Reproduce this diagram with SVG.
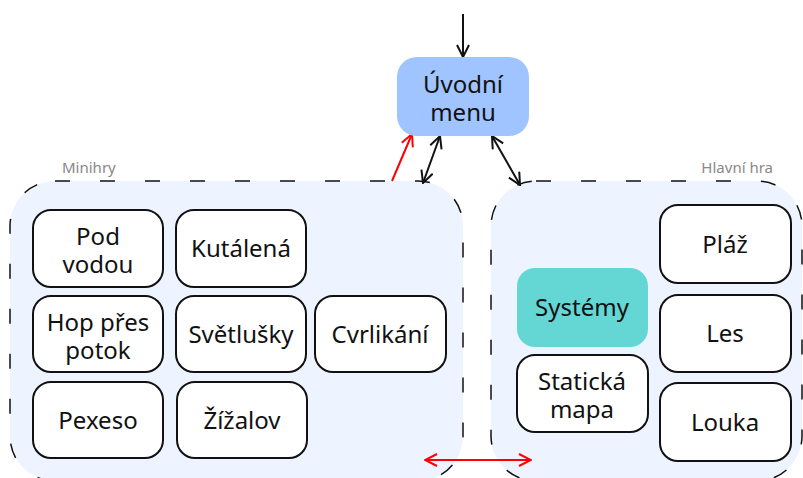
<svg xmlns="http://www.w3.org/2000/svg" width="803" height="478" viewBox="0 0 803 478">
<defs>
<style>
.cluster{fill:#eef4ff;stroke:#111;stroke-width:1.5;stroke-dasharray:15,30}
.clabel{font-family:"Noto Sans","Open Sans",sans-serif;font-size:15px;fill:#888}
.node{fill:#fff;stroke:#111;stroke-width:2}
.t{font-family:"Noto Sans","Open Sans",sans-serif;font-size:24px;fill:#111;text-anchor:middle}
.edge{fill:none;stroke:#111;stroke-width:2}
.red{fill:none;stroke:#f00;stroke-width:2}
</style>
<marker id="ah" viewBox="0 0 14 14" refX="13" refY="7" markerWidth="14" markerHeight="14" markerUnits="userSpaceOnUse" orient="auto-start-reverse">
<path d="M1,1 L13,7 L1,13" fill="none" stroke="#111" stroke-width="2"/>
</marker>
<marker id="ahr" viewBox="0 0 14 14" refX="13" refY="7" markerWidth="14" markerHeight="14" markerUnits="userSpaceOnUse" orient="auto-start-reverse">
<path d="M1,1 L13,7 L1,13" fill="none" stroke="#f00" stroke-width="2"/>
</marker>
</defs>
<rect width="803" height="478" fill="#fff"/>
<g id="minihry">
<rect class="cluster" x="10" y="181" width="453" height="300" rx="45"/>
<text class="clabel" x="62" y="173">Minihry</text>
</g>
<g id="hlavni-hra">
<rect class="cluster" x="491" y="181" width="311" height="300" rx="45"/>
<text class="clabel" x="773" y="173" text-anchor="end">Hlavní hra</text>
</g>
<g id="connectors">
<line class="edge" x1="463" y1="14" x2="463" y2="57" marker-end="url(#ah)"/>
<line class="edge" x1="423" y1="183" x2="440" y2="136" marker-start="url(#ah)" marker-end="url(#ah)"/>
<line class="edge" x1="492" y1="136" x2="520" y2="185" marker-start="url(#ah)" marker-end="url(#ah)"/>
<line class="red" x1="392" y1="181" x2="412" y2="134" marker-end="url(#ahr)"/>
<line class="red" x1="425" y1="460" x2="531" y2="460" marker-start="url(#ahr)" marker-end="url(#ahr)"/>
</g>
<g id="uvodni-menu">
<rect x="397" y="57" width="132" height="79" rx="20" fill="#a0c4ff"/>
<text class="t" x="463" y="93">Úvodní</text>
<text class="t" x="463" y="121">menu</text>
</g>
<g id="pod-vodou">
<rect class="node" x="33" y="210" width="130" height="77" rx="18"/>
<text class="t" x="98" y="245">Pod</text>
<text class="t" x="98" y="273">vodou</text>
</g>
<g id="kutalena">
<rect class="node" x="176" y="210" width="130" height="77" rx="18"/>
<text class="t" x="241" y="257">Kutálená</text>
</g>
<g id="hop-pres-potok">
<rect class="node" x="33" y="296" width="130" height="76" rx="18"/>
<text class="t" x="98" y="331">Hop přes</text>
<text class="t" x="98" y="359">potok</text>
</g>
<g id="svetlusky">
<rect class="node" x="176" y="296" width="130" height="76" rx="18"/>
<text class="t" x="241" y="343">Světlušky</text>
</g>
<g id="cvrlikani">
<rect class="node" x="315" y="296" width="131" height="76" rx="18"/>
<text class="t" x="380" y="343">Cvrlikání</text>
</g>
<g id="pexeso">
<rect class="node" x="33" y="382" width="130" height="76" rx="18"/>
<text class="t" x="98" y="429">Pexeso</text>
</g>
<g id="zizalov">
<rect class="node" x="177" y="382" width="130" height="76" rx="18"/>
<text class="t" x="242" y="429">Žížalov</text>
</g>
<g id="systemy">
<rect x="517" y="268" width="131" height="79" rx="18" fill="#64d7d5"/>
<text class="t" x="582" y="316">Systémy</text>
</g>
<g id="staticka-mapa">
<rect class="node" x="517" y="355" width="131" height="77" rx="18"/>
<text class="t" x="582" y="390">Statická</text>
<text class="t" x="582" y="418">mapa</text>
</g>
<g id="plaz">
<rect class="node" x="660" y="205" width="131" height="78" rx="18"/>
<text class="t" x="725" y="253">Pláž</text>
</g>
<g id="les">
<rect class="node" x="660" y="295" width="131" height="77" rx="18"/>
<text class="t" x="725" y="342">Les</text>
</g>
<g id="louka">
<rect class="node" x="660" y="383" width="131" height="78" rx="18"/>
<text class="t" x="725" y="431">Louka</text>
</g>
</svg>
